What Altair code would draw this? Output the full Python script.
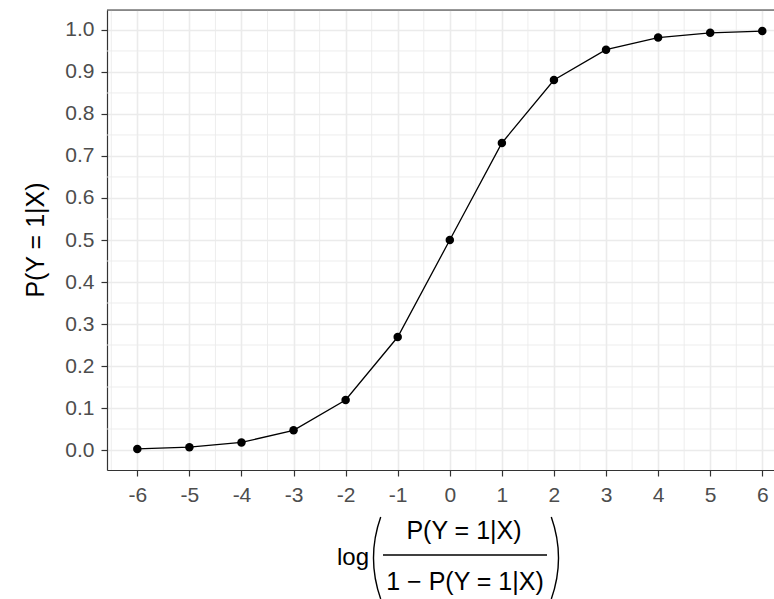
import altair as alt
import pandas as pd

# Logistic curve: log-odds on x, probability on y
logit = [-6, -5, -4, -3, -2, -1, 0, 1, 2, 3, 4, 5, 6]
prob = [0.0025, 0.0067, 0.018, 0.047, 0.119, 0.269, 0.5,
        0.731, 0.881, 0.953, 0.982, 0.9933, 0.9975]

# Tick / grid positions
x_major = [-6, -5, -4, -3, -2, -1, 0, 1, 2, 3, 4, 5, 6]
x_minor = [-6.5, -5.5, -4.5, -3.5, -2.5, -1.5, -0.5, 0.5, 1.5, 2.5, 3.5, 4.5, 5.5]
y_major = [0.0, 0.1, 0.2, 0.3, 0.4, 0.5, 0.6, 0.7, 0.8, 0.9, 1.0]
y_minor = [0.05, 0.15, 0.25, 0.35, 0.45, 0.55, 0.65, 0.75, 0.85, 0.95]

X_DOM = [-6.582, 6.225]
Y_DOM = [-0.0476, 1.0476]

FONT = "Liberation Sans"
GRID = "#EBEBEB"
INK = "#333333"

x_scale = alt.Scale(domain=X_DOM, nice=False, zero=False)
y_scale = alt.Scale(domain=Y_DOM, nice=False, zero=False)

x_axis = alt.Axis(
    values=x_major, grid=True, gridColor=GRID, gridWidth=1.6,
    domainColor=INK, domainWidth=1.2, tickColor=INK, tickWidth=1.2, tickSize=6,
    labelFont=FONT, labelFontSize=21, labelColor="#4D4D4D", labelPadding=8,
    labelExpr="toString(datum.value)", labelFlush=False, labelOverlap=False,
    title=None,
)
y_axis = alt.Axis(
    values=y_major, grid=True, gridColor=GRID, gridWidth=1.6, format=".1f",
    domainColor=INK, domainWidth=1.2, tickColor=INK, tickWidth=1.2, tickSize=6,
    labelFont=FONT, labelFontSize=21, labelColor="#4D4D4D", labelPadding=7,
    labelFlush=False, labelOverlap=False, title=None,
)

curve = pd.DataFrame({"logit": logit, "prob": prob})

minor_x = alt.Chart(pd.DataFrame({"v": x_minor})).mark_rule(
    color=GRID, strokeWidth=0.9
).encode(x=alt.X("v:Q", scale=x_scale, axis=x_axis))

minor_y = alt.Chart(pd.DataFrame({"v": y_minor})).mark_rule(
    color=GRID, strokeWidth=0.9
).encode(y=alt.Y("v:Q", scale=y_scale, axis=y_axis))

line = alt.Chart(curve).mark_line(color="black", strokeWidth=1.3).encode(
    x=alt.X("logit:Q", scale=x_scale, axis=x_axis),
    y=alt.Y("prob:Q", scale=y_scale, axis=y_axis),
)
points = alt.Chart(curve).mark_circle(color="black", size=72, opacity=1).encode(
    x=alt.X("logit:Q", scale=x_scale, axis=x_axis),
    y=alt.Y("prob:Q", scale=y_scale, axis=y_axis),
)

# Top edge of the panel border
top_border = alt.Chart(pd.DataFrame({"a": [0]})).mark_rule(
    color=INK, strokeWidth=1.2
).encode(
    x=alt.datum(X_DOM[0], scale=x_scale),
    x2=alt.datum(X_DOM[1]),
    y=alt.datum(Y_DOM[1], scale=y_scale),
)

one = pd.DataFrame({"a": [0]})

def label(text, x, y, align="center", size=25, angle=0, baseline="alphabetic"):
    return alt.Chart(one).mark_text(
        text=text, font=FONT, fontSize=size, color="black",
        align=align, baseline=baseline, angle=angle,
    ).encode(x=alt.value(x), y=alt.value(y))

# y-axis title
y_title = label("P(Y = 1|X)", -71, 230, angle=270, baseline="middle", size=25)

# x-axis title: log( P(Y=1|X) / (1 - P(Y=1|X)) )
log_txt = label("log", 230, 555, align="left", size=24)
numer = label("P(Y = 1|X)", 357, 529)
denom = label("1 \u2212 P(Y = 1|X)", 358, 580)
frac_bar = alt.Chart(one).mark_rule(color="black", strokeWidth=1.5).encode(
    x=alt.value(276), x2=alt.value(440), y=alt.value(545)
)

def paren(cx, t0, t1):
    return alt.Chart(one).mark_arc(
        color="black", radius=124, radius2=122.6, theta=t0, theta2=t1
    ).encode(x=alt.value(cx), y=alt.value(548))

left_paren = paren(390, 4.374, 5.051)
right_paren = paren(328, 1.232, 1.909)

chart = alt.layer(
    minor_x, minor_y, top_border, line, points,
    y_title, log_txt, numer, denom, frac_bar, left_paren, right_paren,
).properties(
    width=667, height=460,
    autosize=alt.AutoSizeParams(type="none"),
    padding={"left": 107, "top": 10, "right": 0, "bottom": 129},
).configure_view(stroke=None).configure(background="white")

chart.save("out.html", embed_options={"renderer": "svg", "actions": False})
